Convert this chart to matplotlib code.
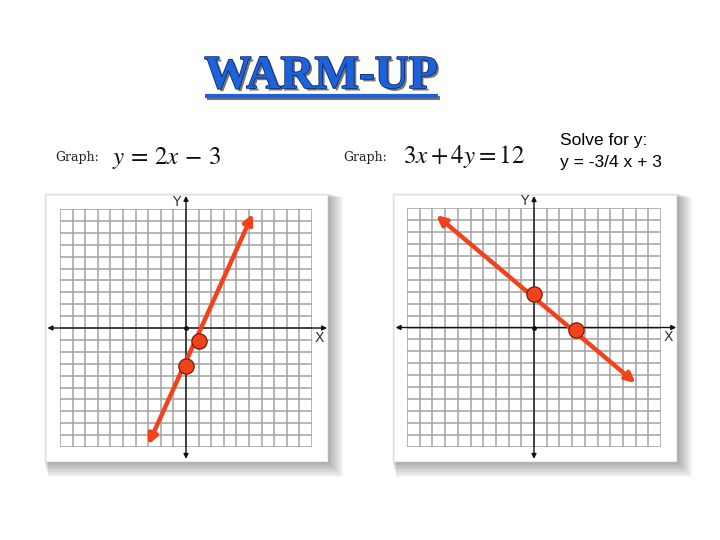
import matplotlib.pyplot as plt
import matplotlib.patheffects as pe
from matplotlib.patches import Rectangle

# grid range
ticks = list(range(-10, 11))

# left graph: y = 2x - 3
left_line_x = [-3.0, 5.3]
left_line_y = [-9.8, 9.6]
left_pts_x = [0, 1]
left_pts_y = [-3.2, -1.1]

# right graph: 3x + 4y = 12
right_line_x = [-7.7, 8.0]
right_line_y = [9.4, -4.65]
right_pts_x = [0, 3.3]
right_pts_y = [2.8, -0.2]

RED = '#f2421c'

fig = plt.figure(figsize=(7.2, 5.4), dpi=100)
bg = fig.add_axes([0, 0, 1, 1])
bg.set_xlim(0, 720)
bg.set_ylim(540, 0)
bg.axis('off')


def panel(x0, y0, x1, y1):
    # soft drop shadow then white card
    for i in range(12, 0, -1):
        bg.add_patch(Rectangle((x0 - 2 + i * 0.35, y0 - 2 + i * 0.35), x1 - x0 + 2 + i, y1 - y0 + 2 + i,
                               facecolor='#000000', alpha=0.03, edgecolor='none'))
    bg.add_patch(Rectangle((x0, y0), x1 - x0, y1 - y0, facecolor='white', edgecolor='#eeeeee', lw=0.8))


panel(46, 195, 327, 461)
panel(394, 195, 676, 461)

# title
title = bg.text(321, 77, 'WARM-UP', ha='center', va='center', fontsize=34, fontweight='bold',
                family='Liberation Serif', color='#1d62d8')
title.set_path_effects([pe.withSimplePatchShadow(offset=(1.8, -1.8), shadow_rgbFace='#666666', alpha=0.9),
                        pe.Stroke(linewidth=1.2, foreground='#0a2a6e'), pe.Normal()])
ul, = bg.plot([205, 438], [96, 96], color='#1d62d8', lw=3, solid_capstyle='butt')
ul.set_path_effects([pe.SimpleLineShadow(offset=(1.5, -1.5), shadow_color='#666666', alpha=0.9), pe.Normal()])

# headings
bg.text(55, 158, 'Graph:', ha='left', va='center', fontsize=9, family='DejaVu Serif', color='#222222')
bg.text(343, 158, 'Graph:', ha='left', va='center', fontsize=9, family='DejaVu Serif', color='#222222')
plt.rcParams['mathtext.fontset'] = 'stix'
bg.text(112, 158, r'$y\,=\,2x\,-\,3$', ha='left', va='center', fontsize=18, color='#111111')
bg.text(403, 157, r'$3x + 4y = 12$', ha='left', va='center', fontsize=18, color='#111111')
bg.text(560, 140, 'Solve for y:', ha='left', va='center', fontsize=12.5, family='Liberation Sans', color='black')
bg.text(560, 162, 'y = -3/4 x + 3', ha='left', va='center', fontsize=12.5, family='Liberation Sans', color='black')


def graph(rect, lx, ly, px, py, xext, yext):
    ax = fig.add_axes(rect)
    ax.set_xlim(-10, 10)
    ax.set_ylim(-10, 10)
    ax.axis('off')
    ax.vlines(ticks, -10, 10, color='#a2a2a2', lw=1.1)
    ax.hlines(ticks, -10, 10, color='#a2a2a2', lw=1.1)
    # coordinate axes with small arrowheads
    ax.annotate('', xy=(xext[1], 0), xytext=(xext[0], 0), annotation_clip=False,
                arrowprops=dict(arrowstyle='<|-|>', color='#111111', lw=1.0, mutation_scale=7,
                                shrinkA=0, shrinkB=0))
    ax.annotate('', xy=(0, yext[1]), xytext=(0, yext[0]), annotation_clip=False,
                arrowprops=dict(arrowstyle='<|-|>', color='#111111', lw=1.0, mutation_scale=7,
                                shrinkA=0, shrinkB=0))
    ax.plot([0], [0], 'o', ms=2.5, color='#111111')
    ax.text(-0.75, 10.55, 'Y', ha='center', va='center', fontsize=10, color='#333333', clip_on=False)
    ax.text(10.6, -0.8, 'X', ha='center', va='center', fontsize=10, color='#333333', clip_on=False)
    # the line with arrows at both ends
    ax.annotate('', xy=(lx[1], ly[1]), xytext=(lx[0], ly[0]), annotation_clip=False,
                arrowprops=dict(arrowstyle='<|-|>', color=RED, lw=3.2, mutation_scale=14,
                                shrinkA=0, shrinkB=0))
    ax.plot(px, py, 'o', ms=11, color=RED, markeredgecolor='#7a1a08', markeredgewidth=0.9, zorder=5)
    return ax


graph([60 / 720, 93 / 540, 252 / 720, 238 / 540], left_line_x, left_line_y,
      left_pts_x, left_pts_y, (-11.0, 11.2), (-11.0, 11.1))
graph([407 / 720, 93 / 540, 254 / 720, 239 / 540], right_line_x, right_line_y,
      right_pts_x, right_pts_y, (-10.9, 11.2), (-11.0, 11.0))

fig.savefig('out.png', dpi=100)
